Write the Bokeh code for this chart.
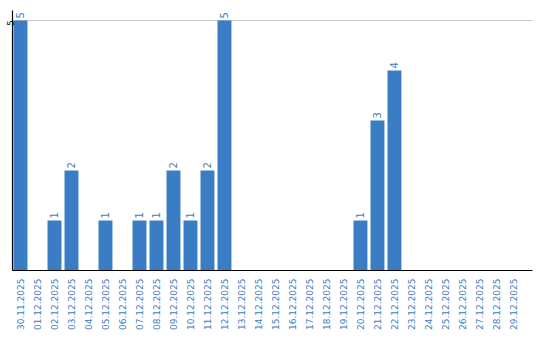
import math
from bokeh.plotting import figure
from bokeh.models import ColumnDataSource, Range1d, FixedTicker
from bokeh.core.properties import value
from bokeh.embed import file_html
from bokeh.resources import INLINE

dates = ["30.11.2025", "01.12.2025", "02.12.2025", "03.12.2025", "04.12.2025",
         "05.12.2025", "06.12.2025", "07.12.2025", "08.12.2025", "09.12.2025",
         "10.12.2025", "11.12.2025", "12.12.2025", "13.12.2025", "14.12.2025",
         "15.12.2025", "16.12.2025", "17.12.2025", "18.12.2025", "19.12.2025",
         "20.12.2025", "21.12.2025", "22.12.2025", "23.12.2025", "24.12.2025",
         "25.12.2025", "26.12.2025", "27.12.2025", "28.12.2025", "29.12.2025"]
counts = [5, 0, 1, 2, 0, 1, 0, 1, 1, 2, 1, 2, 5, 0, 0,
          0, 0, 0, 0, 0, 1, 3, 4, 0, 0, 0, 0, 0, 0, 0]
y_ticks = [5]

BLUE = "#3b7dc4"
idx = list(range(len(dates)))
src = ColumnDataSource(dict(x=idx, top=counts))
nz = [i for i, c in enumerate(counts) if c > 0]
lab = ColumnDataSource(dict(x=[i for i in nz], y=[counts[i] for i in nz],
                            t=[str(counts[i]) for i in nz]))

p = figure(frame_width=520, frame_height=260, output_backend="svg",
           toolbar_location=None,
           x_range=Range1d(-0.47, 30.12), y_range=Range1d(0, 5.2),
           min_border_left=10, min_border_right=8, min_border_top=10,
           min_border_bottom=10)
p.outline_line_color = None
p.background_fill_color = "white"
p.border_fill_color = "white"

p.vbar(x="x", top="top", bottom=0, width=0.82, source=src,
       fill_color=BLUE, line_color=None)
p.text(x="x", y="y", text="t", source=lab, angle=math.pi / 2,
       x_offset=0, y_offset=-2, text_align="left", text_baseline="middle",
       text_color=BLUE, text_font_size="10px", text_font=value("DejaVu Sans"))

p.xaxis.ticker = FixedTicker(ticks=idx)
p.xaxis.major_label_overrides = {i: d for i, d in enumerate(dates)}
p.xaxis.major_label_orientation = math.pi / 2
p.xaxis.major_label_text_color = BLUE
p.xaxis.major_label_text_font = "DejaVu Sans"
p.xaxis.major_label_text_font_size = "9px"
p.xaxis.major_tick_line_color = None
p.xaxis.minor_tick_line_color = None
p.xaxis.major_tick_out = 0
p.xaxis.major_tick_in = 0
p.xaxis.major_label_standoff = 8
p.xaxis.axis_line_color = "black"
p.xaxis.axis_line_width = 1.2

p.yaxis.ticker = FixedTicker(ticks=y_ticks)
p.yaxis.major_label_orientation = math.pi / 2
p.yaxis.major_label_text_font = "DejaVu Sans"
p.yaxis.major_label_text_font_size = "8px"
p.yaxis.major_label_text_color = "black"
p.yaxis.major_tick_line_color = None
p.yaxis.minor_tick_line_color = None
p.yaxis.major_tick_out = 0
p.yaxis.major_tick_in = 0
p.yaxis.major_label_standoff = 2
p.yaxis.axis_line_color = "black"
p.yaxis.axis_line_width = 1.2

p.xgrid.grid_line_color = None
p.ygrid.ticker = FixedTicker(ticks=y_ticks)
p.ygrid.grid_line_color = "#c8c8c8"
p.ygrid.grid_line_width = 1

open("out.html", "w").write(file_html(p, INLINE))
